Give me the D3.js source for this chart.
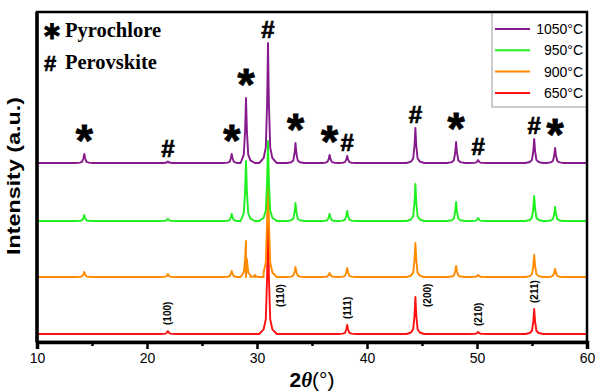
<!DOCTYPE html>
<html>
<head>
<meta charset="utf-8">
<script src="https://cdn.jsdelivr.net/npm/d3@7"></script>
<style>
  body { margin: 0; background: #fff; }
  svg { display: block; }
  .tick text { font-family: "Liberation Sans", Arial, sans-serif; font-size: 14px; }
</style>
</head>
<body>
<svg id="chart" width="595" height="392"></svg>
<script>
// temperature series (bottom to top)
var seriesNames = ["650°C", "900°C", "950°C", "1050°C"];
var seriesColors = ["#ff1010", "#ff8a00", "#1ff01f", "#861a8c"];
var seriesBaselines = [8, 65, 121, 179];

// [2theta, peak height]
var peaks650 = [[21.9, 3], [31.0, 114], [38.2, 9], [44.4, 37], [50.1, 2], [55.2, 25]];
var peaks900 = [[14.3, 5], [21.9, 3], [27.7, 6], [29.0, 36], [29.8, 2], [31.0, 112], [33.5, 10],
  [36.6, 4], [38.2, 9], [44.4, 34], [48.1, 11], [50.1, 2], [55.2, 22], [57.1, 8]];
var peaks950 = [[14.3, 6], [21.9, 2], [27.7, 7], [29.0, 60], [31.0, 80], [33.5, 18],
  [36.6, 7], [38.2, 10], [44.4, 37], [48.1, 19], [50.1, 3], [55.2, 25], [57.1, 14]];
var peaks1050 = [[14.3, 9], [21.9, 1.5], [27.7, 9], [29.0, 65], [31.0, 120], [33.5, 20],
  [36.6, 8], [38.2, 7], [44.4, 35], [48.1, 21], [50.1, 3], [55.2, 24], [57.1, 15]];
var seriesPeaks = [peaks650, peaks900, peaks950, peaks1050];

// phase markers above the 1050 pattern
var phaseMarks = [[14.3, "*"], [21.9, "#"], [27.7, "*"], [29.0, "*"], [31.0, "#"], [33.5, "*"],
  [36.6, "*"], [38.2, "#"], [44.4, "#"], [48.1, "*"], [50.1, "#"], [55.2, "#"], [57.1, "*"]];

// perovskite indices on the 650 pattern
var hklLabels = [[21.9, "(100)"], [31.0, "(110)"], [38.2, "(111)"], [44.4, "(200)"], [50.1, "(210)"], [55.2, "(211)"]];

var xTicks = [10, 20, 30, 40, 50, 60];
var xMinor = [15, 25, 35, 45, 55];

var SANS = "'Liberation Sans', Arial, sans-serif";
var SERIF = "'Liberation Serif', 'Times New Roman', serif";

var svg = d3.select("#chart");
var plot = {left: 37, right: 587, top: 12, bottom: 342};

var x = d3.scaleLinear().domain([10, 60]).range([plot.left, plot.right]);
var y = d3.scaleLinear().domain([0, 330]).range([plot.bottom, plot.top]);

// fixed instrument peak shape (offset in degrees, fraction of height)
var shape = [[-0.8, 0], [-0.4, 0.04], [-0.2, 0.13], [-0.08, 0.5], [0, 1], [0.08, 0.5], [0.2, 0.13], [0.4, 0.04], [0.8, 0]];

function buildPattern(pk, base) {
	var pts = [[10, base]];
	pk.forEach(function(p) {
		shape.forEach(function(s) {
			pts.push([p[0] + s[0], base + p[1] * s[1]]);
		});
	});
	pts.push([60, base]);
	pts.sort(function(a, b) { return a[0] - b[0]; });
	return pts;
}

function peakTop(pk, base, pos) {
	var hit = pk.filter(function(p) { return p[0] === pos; })[0];
	return base + (hit ? hit[1] : 0);
}

svg.append("defs").append("clipPath").attr("id", "clip")
	.append("rect")
	.attr("x", plot.left).attr("y", plot.top)
	.attr("width", plot.right - plot.left).attr("height", plot.bottom - plot.top);

var line = d3.line()
	.x(function(d) { return x(d[0]); })
	.y(function(d) { return y(d[1]); });

var lines = svg.append("g").attr("clip-path", "url(#clip)");
seriesPeaks.forEach(function(pk, i) {
	lines.append("path")
		.datum(buildPattern(pk, seriesBaselines[i]))
		.attr("d", line)
		.attr("fill", "none")
		.attr("stroke", seriesColors[i])
		.attr("stroke-width", 1.9)
		.attr("stroke-linejoin", "round");
});

// phase markers
var topBase = seriesBaselines[3];
phaseMarks.forEach(function(m) {
	var top = y(peakTop(peaks1050, topBase, m[0]));
	var t = svg.append("text")
		.attr("x", x(m[0]))
		.attr("text-anchor", "middle")
		.attr("stroke", "#000")
		.style("font-family", SANS).style("font-weight", "bold");
	if (m[1] === "*") {
		t.attr("y", top + 2).attr("stroke-width", 0.9).style("font-size", "44px").text("*");
	} else {
		t.attr("y", top - 5).attr("stroke-width", 0.7).style("font-size", "24px").text("#");
	}
});

// hkl labels
hklLabels.forEach(function(h) {
	var pk = peaks650.filter(function(p) { return p[0] === h[0]; })[0];
	var tall = pk[1] > 30;
	var px = tall ? x(h[0] + 1.1) : x(h[0]);
	var bottom = tall ? 307 : y(seriesBaselines[0] + pk[1]) - 6;
	svg.append("text")
		.attr("transform", "translate(" + (px + 3.5) + "," + bottom + ") rotate(-90)")
		.attr("text-anchor", "start")
		.style("font-family", SANS).style("font-weight", "bold").style("font-size", "10px")
		.text(h[1]);
});

// phase key
var key = svg.append("g").style("font-family", SERIF).style("font-weight", "bold").style("font-size", "20.5px");
key.append("text").attr("x", 52).attr("y", 39).attr("text-anchor", "middle")
	.attr("stroke", "#000").attr("stroke-width", 0.8)
	.style("font-family", "'DejaVu Sans', sans-serif").style("font-size", "25px").text("\u2217");
key.append("text").attr("x", 65).attr("y", 37).text("Pyrochlore");
key.append("text").attr("x", 50).attr("y", 71).attr("text-anchor", "middle")
	.attr("stroke", "#000").attr("stroke-width", 0.6)
	.style("font-family", SANS).style("font-size", "22px").text("#");
key.append("text").attr("x", 65).attr("y", 69).text("Perovskite");

// legend
var legend = svg.append("g");
legend.append("rect")
	.attr("x", 492).attr("y", plot.top).attr("width", plot.right - 492).attr("height", 95)
	.attr("fill", "#fff").attr("stroke", "#999").attr("stroke-width", 1);
[3, 2, 1, 0].forEach(function(i, k) {
	var ly = 29 + k * 21.3;
	legend.append("line")
		.attr("x1", 495).attr("x2", 530).attr("y1", ly).attr("y2", ly)
		.attr("stroke", seriesColors[i]).attr("stroke-width", 2);
	legend.append("text")
		.attr("x", 583).attr("y", ly + 5)
		.attr("text-anchor", "end")
		.style("font-family", SANS).style("font-size", "14px")
		.text(seriesNames[i]);
});

// frame
svg.append("rect")
	.attr("x", plot.left).attr("y", plot.top)
	.attr("width", plot.right - plot.left).attr("height", plot.bottom - plot.top)
	.attr("fill", "none").attr("stroke", "#000").attr("stroke-width", 2.5);

svg.append("line")
	.attr("x1", plot.left).attr("x2", plot.left).attr("y1", plot.top).attr("y2", plot.bottom)
	.attr("stroke", "#000").attr("stroke-width", 3.5);

// x axis
var xAxis = svg.append("g")
	.attr("transform", "translate(0," + plot.bottom + ")")
	.call(d3.axisBottom(x).tickValues(xTicks).tickSize(7).tickPadding(4).tickFormat(d3.format("d")));
xAxis.select(".domain").attr("stroke-width", 3.5);
xAxis.selectAll(".tick line").attr("stroke-width", 2.5);

svg.append("g")
	.attr("transform", "translate(0," + plot.bottom + ")")
	.call(d3.axisBottom(x).tickValues(xMinor).tickSize(4).tickFormat(""))
	.call(function(g) { g.select(".domain").remove(); })
	.selectAll(".tick line").attr("stroke-width", 2.5);

// axis titles
var xt = svg.append("text")
	.attr("x", 312).attr("y", 387)
	.attr("text-anchor", "middle")
	.style("font-family", SANS).style("font-weight", "bold").style("font-size", "21px");
xt.append("tspan").text("2");
xt.append("tspan").style("font-style", "italic").style("font-family", SERIF).text("θ");
xt.append("tspan").style("font-weight", "normal").text("(°)");

svg.append("text")
	.attr("transform", "translate(20,176) rotate(-90)")
	.attr("text-anchor", "middle")
	.attr("textLength", 158).attr("lengthAdjust", "spacingAndGlyphs")
	.style("font-family", SANS).style("font-weight", "bold").style("font-size", "18px")
	.text("Intensity (a.u.)");
</script>
</body>
</html>
